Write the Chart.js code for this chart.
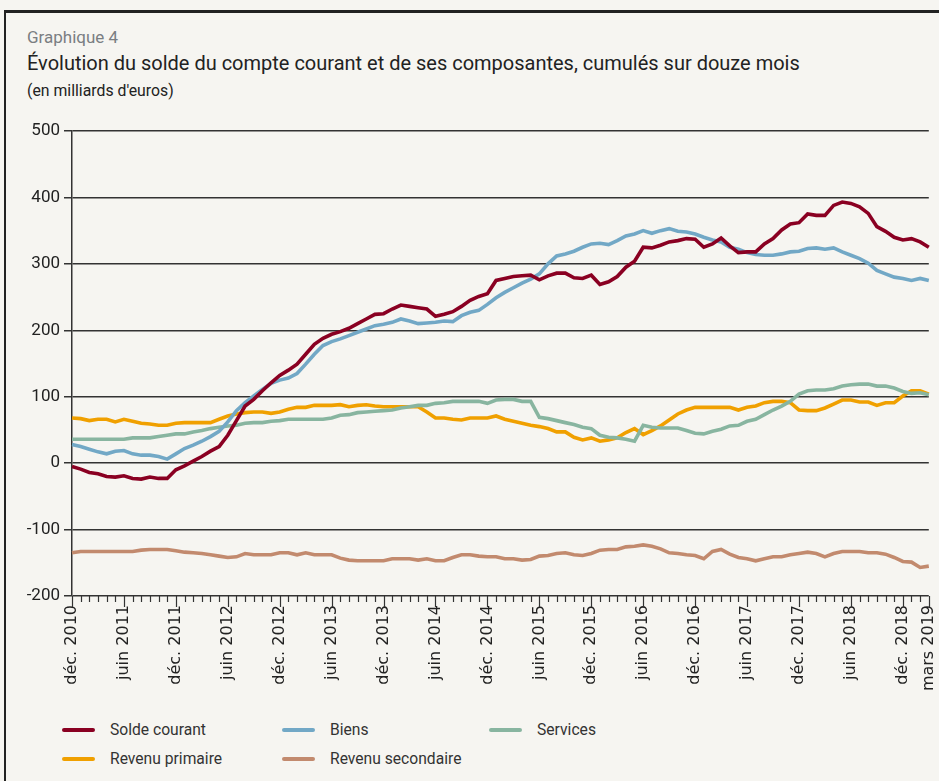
<!DOCTYPE html>
<html>
<head>
<meta charset="utf-8">
<script src="https://cdn.jsdelivr.net/npm/chart.js@4/dist/chart.umd.min.js"></script>
<style>
  html, body { margin: 0; padding: 0; }
  body { width: 939px; height: 781px; background: #f6f5f1; position: relative; overflow: hidden;
         font-family: "Roboto", sans-serif; color: #222; }
  #frame { position: absolute; left: 4px; top: 10px; width: 940px; height: 780px;
           border-top: 3px solid #222; border-left: 2px solid #222; }
  .t0, .t1, .t2 { position: absolute; left: 27px; transform-origin: 0 0; white-space: nowrap; }
  .t0 { top: 27px; font-size: 17px; color: #7a7e82; }
  .t1 { top: 51px; font-size: 21px; color: #222; transform: scaleX(0.952); }
  .t2 { top: 80px; font-size: 17px; color: #222; transform: scaleX(0.93); }
  #wrap { position: absolute; left: 0; top: 100px; width: 957px; height: 606px; }
  .leg { position: absolute; font-size: 17px; color: #333; white-space: nowrap; }
  .leg b { font-weight: normal; display: inline-block; transform-origin: 0 0; transform: scaleX(0.92); }
  .leg span { position: absolute; left: -48px; top: 9px; width: 33px; height: 4px; border-radius: 2px; }
</style>
</head>
<body>
<div id="frame"></div>
<div class="t0">Graphique 4</div>
<div class="t1">Évolution du solde du compte courant et de ses composantes, cumulés sur douze mois</div>
<div class="t2">(en milliards d'euros)</div>
<div id="wrap"><canvas id="canvas"></canvas></div>
<div id="legend"></div>
<script>
// mois de déc. 2010 à mars 2019
var moisNoms = ['janv.', 'févr.', 'mars', 'avr.', 'mai', 'juin', 'juil.', 'août', 'sept.', 'oct.', 'nov.', 'déc.'];
var labels = [];
for (var k = 0; k < 100; k++) {
    var m = (11 + k) % 12;
    var a = 2010 + Math.floor((11 + k) / 12);
    labels.push(moisNoms[m] + ' ' + a);
}

var yTicks = [-200, -100, 0, 100, 200, 300, 400, 500];

var soldeCourant = [-5,-9,-14,-16,-20,-21,-19,-23,-24,-21,-23,-23,-10,-4,3,10,18,25,42,64,
    86,96,109,121,132,140,149,164,179,188,194,198,203,210,217,224,225,232,238,236,
    234,232,221,224,228,236,245,251,255,275,278,281,282,283,276,282,286,286,279,278,
    283,269,273,281,295,304,325,324,328,333,335,338,337,325,330,339,327,317,318,318,
    330,338,351,360,362,375,373,373,388,393,391,386,376,356,349,340,336,338,333,325];

var biens = [28,25,21,17,14,18,19,14,12,12,10,6,14,22,27,33,40,48,62,79,
    91,101,111,120,125,128,135,149,164,177,183,187,192,197,202,207,209,212,217,214,
    210,211,212,214,213,222,227,230,239,249,257,264,271,277,285,300,312,315,319,325,
    330,331,329,335,342,345,350,346,350,353,349,348,345,340,336,333,325,322,317,314,
    313,313,315,318,319,323,324,322,324,318,313,308,301,290,285,280,278,275,278,275];

var services = [36,36,36,36,36,36,36,38,38,38,40,42,44,44,47,49,52,54,56,57,
    60,61,61,63,64,66,66,66,66,66,68,72,73,76,77,78,79,80,83,85,
    87,87,90,91,93,93,93,93,90,95,96,96,93,93,69,67,64,61,58,54,
    52,42,39,38,36,33,57,54,53,53,53,49,45,44,48,51,56,57,63,66,
    73,80,86,93,104,109,110,110,112,116,118,119,119,116,116,113,108,105,106,103];

var revenuPrimaire = [68,67,64,66,66,62,66,63,60,59,57,57,60,61,61,61,61,66,71,74,
    76,77,77,75,77,81,84,84,87,87,87,88,85,87,88,86,85,85,85,85,
    85,77,68,68,66,65,68,68,68,71,66,63,60,57,55,52,47,47,39,35,
    38,33,35,38,46,52,43,49,56,65,74,80,84,84,84,84,84,80,84,86,
    91,93,93,91,80,79,79,83,89,95,95,92,92,87,91,91,101,109,109,104];

var revenuSecondaire = [-135,-133,-133,-133,-133,-133,-133,-133,-131,-130,-130,-130,-132,-134,-135,-136,-138,-140,-142,-141,
    -136,-138,-138,-138,-135,-135,-138,-135,-138,-138,-138,-143,-146,-147,-147,-147,-147,-144,-144,-144,
    -146,-144,-147,-147,-142,-138,-138,-140,-141,-141,-144,-144,-146,-145,-140,-139,-136,-135,-138,-139,
    -136,-131,-130,-130,-126,-125,-123,-125,-129,-135,-136,-138,-139,-144,-133,-130,-137,-142,-144,-147,
    -144,-141,-141,-138,-136,-134,-136,-141,-136,-133,-133,-133,-135,-135,-137,-142,-148,-149,-157,-155];

var series = [
    { nom: 'Solde courant', data: soldeCourant, couleur: '#8a0022' },
    { nom: 'Biens', data: biens, couleur: '#72a8c6' },
    { nom: 'Services', data: services, couleur: '#88b5a0' },
    { nom: 'Revenu primaire', data: revenuPrimaire, couleur: '#f0a000' },
    { nom: 'Revenu secondaire', data: revenuSecondaire, couleur: '#c28a6e' }
];

function estMajeur(i) {
    return i % 6 === 0 || i === labels.length - 1;
}

// petites graduations mensuelles sous l'axe
var tickPlugin = {
    id: 'graduations',
    afterDraw: function(chart) {
        var xs = chart.scales.x;
        var c = chart.ctx;
        var bas = chart.chartArea.bottom;
        c.save();
        c.strokeStyle = '#333';
        c.lineWidth = 1.2;
        for (var i = 0; i < labels.length; i++) {
            var x = Math.round(xs.getPixelForValue(i)) + 0.5;
            c.beginPath();
            c.moveTo(x, bas);
            c.lineTo(x, bas + (estMajeur(i) ? 11 : 6));
            c.stroke();
        }
        c.restore();
    }
};

var ctx = document.getElementById('canvas').getContext('2d');
new Chart(ctx, {
    type: 'line',
    data: {
        labels: labels,
        datasets: series.map(function(s) {
            return {
                label: s.nom,
                data: s.data,
                borderColor: s.couleur,
                backgroundColor: s.couleur,
                borderWidth: 3.6,
                pointRadius: 0,
                tension: 0
            };
        })
    },
    options: {
        responsive: true,
        maintainAspectRatio: false,
        animation: false,
        layout: { padding: { top: 31, right: 0, left: 0, bottom: 0 } },
        plugins: { legend: { display: false }, tooltip: { enabled: false } },
        scales: {
            x: {
                offset: false,
                grid: { display: false, drawTicks: false },
                border: { display: false },
                ticks: {
                    autoSkip: false,
                    maxRotation: 90,
                    minRotation: 90,
                    padding: 9,
                    color: '#222',
                    font: { family: 'DejaVu Sans', size: 16 },
                    callback: function(v, i) { return estMajeur(i) ? labels[i] : ''; }
                },
                afterFit: function(scale) { scale.height = 110; }
            },
            y: {
                min: -200,
                max: 500,
                afterBuildTicks: function(scale) {
                    scale.ticks = yTicks.map(function(v) { return { value: v }; });
                },
                grid: { color: '#333', lineWidth: 1.5, tickLength: 8 },
                border: { display: true, color: '#333', width: 1.5 },
                ticks: {
                    padding: 4,
                    color: '#222',
                    font: { family: 'Roboto', size: 17 }
                },
                afterFit: function(scale) { scale.width = 72; }
            }
        }
    },
    plugins: [tickPlugin]
});

// légende sur deux lignes
var posLeg = [[110, 719], [330, 719], [537, 719], [110, 748], [330, 748]];
var leg = document.getElementById('legend');
series.forEach(function(s, i) {
    var d = document.createElement('div');
    d.className = 'leg';
    d.style.left = posLeg[i][0] + 'px';
    d.style.top = posLeg[i][1] + 'px';
    d.innerHTML = '<span style="background:' + s.couleur + '"></span><b>' + s.nom + '</b>';
    leg.appendChild(d);
});
</script>
</body>
</html>
